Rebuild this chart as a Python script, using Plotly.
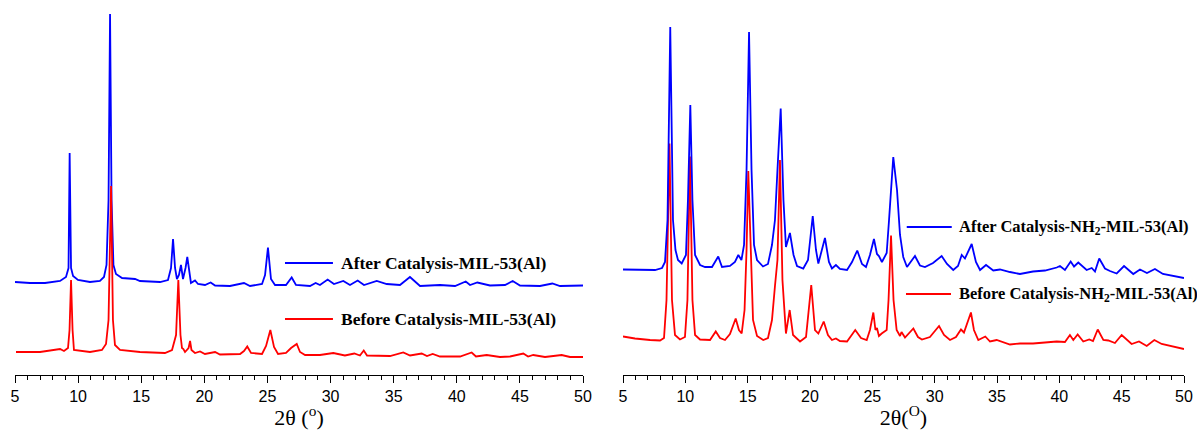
import plotly.graph_objects as go
from plotly.subplots import make_subplots

# ---------------- data (2theta in degrees, intensity in a.u.) ----------------
mil_after_x = [5.0, 6.19, 7.38, 8.57, 9.04, 9.24, 9.33, 9.44, 9.6, 9.99, 10.94, 11.73, 12.05, 12.25, 12.41,
               12.53, 12.65, 12.80, 13.0, 13.48, 14.51, 14.9, 16.49, 17.12, 17.36, 17.52, 17.68, 17.83, 17.99,
               18.15, 18.31, 18.51, 18.65, 18.79, 18.94, 19.26, 19.5, 20.05, 20.5, 20.85, 22.03, 23.14, 23.62,
               24.57, 24.81, 25.04, 25.28, 25.6, 26.47, 26.92, 27.26, 28.37, 28.82, 29.16, 29.77, 30.27, 31.01,
               31.54, 32.15, 32.65, 33.66, 34.45, 35.5, 36.29, 36.69, 37.09, 38.67, 39.86, 40.71, 41.05, 41.63,
               42.63, 43.82, 44.43, 45.01, 46.59, 47.57, 48.18, 50.0]
mil_after_y = [93, 92, 92, 94, 98, 107, 222, 107, 99, 95, 93, 94, 98, 110, 175,
               361, 175, 110, 101, 97, 96, 94, 93, 95, 107, 136, 107, 96, 100,
               110, 96, 107, 118, 103, 92, 94.5, 91, 90, 92.5, 89.5, 89, 92, 89,
               91, 100, 127.5, 96, 90, 90, 97.5, 90, 89, 92, 90, 95.5, 91, 94,
               90, 94.5, 90, 94, 91, 90, 98, 93, 89, 90, 89, 93.5, 90, 92.5,
               89.5, 90, 94, 89.5, 89, 91.5, 89, 89.5]

mil_before_x = [5.08, 6.98, 8.57, 8.88, 9.2, 9.32, 9.44, 9.56, 9.67, 10.94, 11.89, 12.21, 12.41, 12.61, 12.76,
                12.92, 13.32, 14.9, 16.88, 17.44, 17.76, 17.94, 18.11, 18.23, 18.34, 18.47, 18.75, 18.87, 18.98,
                19.26, 19.66, 20.05, 20.85, 21.24, 22.83, 23.14, 23.4, 23.7, 24.57, 24.89, 25.23, 25.52, 25.84,
                26.47, 26.87, 27.32, 27.58, 27.98, 29.16, 30.22, 31.14, 31.88, 32.33, 32.63, 32.89, 34.71, 35.76,
                36.3, 37.22, 37.64, 38.09, 38.67, 40.26, 41.18, 41.52, 42.37, 43.42, 44.22, 45.27, 45.65, 46.06,
                46.99, 48.31, 48.97, 50.0]
mil_before_y = [23, 23, 26, 24, 27, 45, 95, 45, 25, 23, 25, 31, 55, 189, 55,
                30, 25, 23, 22, 25, 40, 95, 40, 27, 26, 23, 27, 34, 25,
                22, 23.5, 21, 23, 20.5, 21, 24, 28.5, 22, 21, 29, 45, 28, 21,
                22, 27, 31, 23, 20, 20, 22, 19.5, 21.5, 19.5, 24.5, 19.5, 19, 22.5,
                19.5, 21.5, 19, 21, 18.5, 18.5, 22.5, 18.5, 20, 18, 18.5, 21.5, 18.5, 20,
                18, 20, 18, 18]

nh2_after_x = [5.0, 6.36, 7.57, 8.13, 8.37, 8.57, 8.79, 9.01, 9.21, 9.41, 9.71, 10.05, 10.21, 10.4, 10.57,
               10.78, 11.18, 11.58, 12.14, 12.64, 12.94, 13.58, 13.98, 14.25, 14.5, 14.71, 14.91, 15.11, 15.31,
               15.51, 15.75, 16.23, 16.63, 16.95, 17.19, 17.39, 17.65, 17.87, 18.07, 18.39, 18.68, 18.96, 19.46,
               19.84, 20.22, 20.48, 20.67, 21.2, 21.52, 21.76, 22.08, 22.4, 22.97, 23.37, 23.79, 24.17, 24.49,
               24.81, 25.13, 25.37, 25.53, 25.77, 26.15, 26.34, 26.68, 26.98, 27.22, 27.48, 27.78, 28.42, 28.82,
               29.22, 29.87, 30.56, 30.99, 31.49, 31.87, 32.17, 32.43, 32.97, 33.31, 33.64, 34.12, 34.7, 35.24,
               36.04, 36.84, 37.89, 38.85, 39.79, 40.05, 40.45, 40.91, 41.18, 41.52, 42.19, 42.6, 42.86, 43.2,
               43.66, 44.06, 44.6, 45.19, 45.93, 46.47, 47.03, 47.67, 48.31, 49.28, 50.0]
nh2_after_y = [105.5, 105, 105, 107, 113, 155, 348, 155, 125, 115, 111.5, 120, 175, 270, 175,
               120, 110, 108, 108, 118.5, 108, 109, 113, 120, 115, 130, 205, 343, 205,
               130, 115, 108.5, 111, 130, 155, 205, 266.5, 175, 128, 142, 120, 109, 106.5,
               115, 159, 125, 111.5, 137, 113, 106.5, 110, 106, 105, 113, 124.5, 111, 108,
               120, 136, 121, 119, 113, 122, 155, 218, 185, 140, 118, 108, 119, 109.5,
               108, 112, 119, 111, 105, 109, 120, 116.5, 131, 113, 105, 110, 104.5, 105.5,
               103, 101, 103.5, 104.5, 107.5, 109, 105, 113.5, 108.5, 112.5, 105, 107, 103.5, 116.5,
               106.5, 104, 101.5, 109, 101, 105.5, 102, 106, 101, 99, 97]

nh2_before_x = [5.0, 5.96, 7.17, 7.97, 8.29, 8.49, 8.73, 8.93, 9.17, 9.57, 9.97, 10.17, 10.37, 10.57, 10.78,
                11.18, 11.98, 12.44, 12.78, 13.18, 13.58, 14.04, 14.3, 14.52, 14.75, 14.91, 15.05, 15.23, 15.43,
                15.75, 16.25, 16.63, 16.95, 17.19, 17.39, 17.59, 17.79, 18.07, 18.37, 18.64, 19.2, 19.68, 20.1,
                20.4, 20.67, 21.1, 21.44, 21.76, 22.08, 22.4, 22.97, 23.63, 24.09, 24.55, 24.81, 25.08, 25.25,
                25.37, 25.53, 25.75, 26.15, 26.3, 26.5, 26.7, 26.95, 27.22, 27.34, 27.62, 28.29, 28.66, 28.98,
                29.62, 30.35, 30.75, 31.23, 31.71, 32.11, 32.35, 32.55, 32.91, 33.15, 33.5, 34.06, 34.44, 34.97,
                36.04, 36.84, 37.89, 38.85, 39.79, 40.45, 40.85, 41.12, 41.47, 41.92, 42.4, 42.7, 43.08, 43.53,
                43.93, 44.46, 45.0, 45.8, 46.39, 47.01, 47.62, 48.21, 49.04, 50.0]
nh2_before_y = [38.5, 36.5, 35, 34.5, 37, 75, 231.5, 75, 40, 35.5, 38, 75, 218.5, 75, 40,
                35.5, 35, 43.5, 37, 35, 41, 56.5, 45, 41.5, 65, 125, 204, 125, 55,
                39, 35, 37, 55, 89, 115, 215, 95, 41.5, 65, 40, 33.5, 38, 90,
                45, 41.5, 53.5, 40, 35, 36.5, 34, 33.5, 45, 37, 35, 45, 62.5, 45,
                47, 39, 41.5, 45, 75, 139.5, 75, 45, 39, 43, 37.5, 46.5, 38, 35.5,
                38, 49, 40, 35, 38, 45.5, 42.5, 50, 62.5, 45, 35, 38.5, 33.5, 35,
                30.5, 31.5, 31.5, 32.5, 33.5, 33, 40, 35, 40.5, 33.5, 35.5, 34, 45.5, 35,
                34.5, 32, 40, 31, 33.5, 29, 35, 31, 29, 26]

x_ticks = [5, 10, 15, 20, 25, 30, 35, 40, 45, 50]
labels_left = ["After Catalysis-MIL-53(Al)", "Before Catalysis-MIL-53(Al)"]
labels_right = ["After Catalysis-NH<sub>2</sub>-MIL-53(Al)", "Before Catalysis-NH<sub>2</sub>-MIL-53(Al)"]

BLUE = "#0000FF"
RED = "#FF0000"

fig = make_subplots(rows=1, cols=2, horizontal_spacing=0.034)

fig.add_trace(go.Scatter(x=mil_after_x, y=mil_after_y, mode="lines",
                         line=dict(color=BLUE, width=1.8), name=labels_left[0]), row=1, col=1)
fig.add_trace(go.Scatter(x=mil_before_x, y=mil_before_y, mode="lines",
                         line=dict(color=RED, width=1.8), name=labels_left[1]), row=1, col=1)
fig.add_trace(go.Scatter(x=nh2_before_x, y=nh2_before_y, mode="lines",
                         line=dict(color=RED, width=1.8), name="Before NH2"), row=1, col=2)
fig.add_trace(go.Scatter(x=nh2_after_x, y=nh2_after_y, mode="lines",
                         line=dict(color=BLUE, width=1.8), name="After NH2"), row=1, col=2)

W = 1169.0
fig.update_layout(
    width=1197, height=430,
    margin=dict(l=15, r=13, t=0, b=55),
    paper_bgcolor="white", plot_bgcolor="white",
    showlegend=False,
    xaxis=dict(domain=[0, 568 / W]),
    xaxis2=dict(domain=[608 / W, 1.0]),
)

axis_common = dict(range=[5, 50], tickmode="array", tickvals=x_ticks,
                   showline=True, linecolor="black", linewidth=1.2,
                   ticks="outside", ticklen=7, tickwidth=1.2, tickcolor="black",
                   minor=dict(dtick=1, ticks="outside", ticklen=4, tickwidth=1, tickcolor="black"),
                   showgrid=False, zeroline=False,
                   tickfont=dict(family="Liberation Sans, Arial", size=16, color="black"))
fig.update_xaxes(**axis_common)
fig.update_xaxes(title=dict(text="2θ (<sup>o</sup>)", standoff=4,
                            font=dict(family="Liberation Serif, Times New Roman", size=22, color="black")),
                 row=1, col=1)
fig.update_xaxes(title=dict(text="2θ(<sup>O</sup>)", standoff=4,
                            font=dict(family="Liberation Serif, Times New Roman", size=22, color="black")),
                 row=1, col=2)
fig.update_yaxes(range=[0, 375], visible=False, showgrid=False, zeroline=False)

# legend samples
legend_items = [
    ("x", "y", 26.39, 30.19, 30.67, 112, BLUE, "<b>" + labels_left[0] + "</b>", 17.5),
    ("x", "y", 26.39, 30.19, 30.67, 56, RED, "<b>" + labels_left[1] + "</b>", 17.5),
    ("x2", "y2", 27.76, 31.37, 31.82, 148, BLUE, "<b>" + labels_right[0] + "</b>", 16.5),
    ("x2", "y2", 27.70, 31.31, 31.78, 81, RED, "<b>" + labels_right[1] + "</b>", 16.5),
]
for xr, yr, x0, x1, xt, yv, col, txt, fs in legend_items:
    fig.add_shape(type="line", xref=xr, yref=yr, x0=x0, x1=x1, y0=yv, y1=yv,
                  line=dict(color=col, width=1.8))
    fig.add_annotation(xref=xr, yref=yr, x=xt, y=yv, text=txt, showarrow=False,
                       xanchor="left", yanchor="middle",
                       font=dict(family="Liberation Serif, Times New Roman", size=fs, color="black"))

fig.write_html("out.html")
